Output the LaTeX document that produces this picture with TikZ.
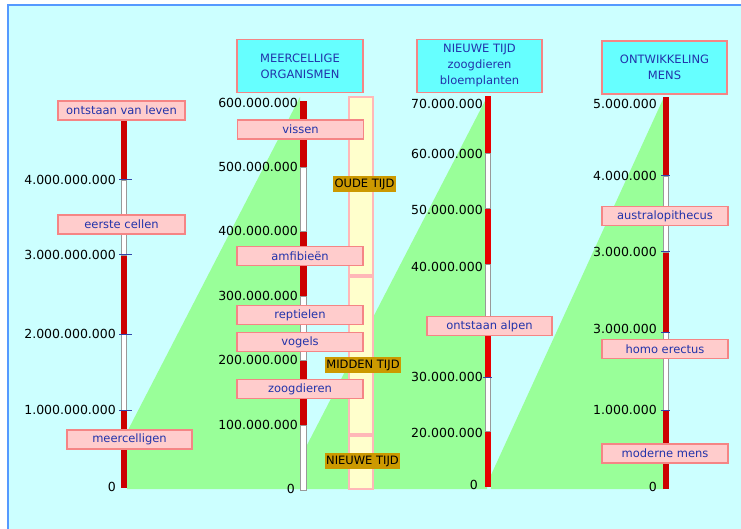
\documentclass[tikz,border=0pt]{standalone}
\usepackage{fontspec}
\setmainfont{DejaVu Sans}

\definecolor{bgcyan}{HTML}{CCFFFF}
\definecolor{frameblue}{HTML}{5599FF}
\definecolor{grass}{HTML}{99FF99}
\definecolor{barred}{HTML}{CC0000}
\definecolor{barredlight}{HTML}{E80000}
\definecolor{boxfill}{HTML}{FFCCCC}
\definecolor{boxline}{HTML}{F58585}
\definecolor{boxtext}{HTML}{2233AA}
\definecolor{headfill}{HTML}{66FFFF}
\definecolor{erafill}{HTML}{FFFFCC}
\definecolor{eraline}{HTML}{FFB8B8}
\definecolor{eragold}{HTML}{CC9900}
\definecolor{tickblue}{HTML}{3344AA}

\tikzset{
  lblbox/.style={draw=boxline, line width=1.2pt, fill=boxfill, text=boxtext,
    font=\fontsize{11.5}{13}\selectfont, minimum width=126pt, minimum height=19pt,
    inner sep=0pt},
  headbox/.style={draw=boxline, line width=1.2pt, fill=headfill, text=boxtext,
    font=\fontsize{11.5}{16}\selectfont, minimum width=125pt, minimum height=53pt,
    align=center, inner sep=0pt},
  eratag/.style={fill=eragold, text=black, font=\fontsize{11.5}{12}\selectfont,
    minimum height=16pt, inner xsep=1.5pt, inner ysep=0pt},
  erabar/.style={draw=eraline, line width=1.2pt, fill=erafill},
  num/.style={anchor=east, inner sep=0pt, font=\fontsize{12.5}{14}\selectfont},
  redseg/.style={fill=barred},
  whiteseg/.style={fill=white, draw=gray!80, line width=0.8pt},
  tickmark/.style={draw=tickblue, line width=1pt}
}

\begin{document}
\begin{tikzpicture}[x=1pt, y=-1pt]
      \useasboundingbox (0,0) rectangle (741,529);

      % Background
      \fill[white] (0,0) rectangle (741,529);
      \fill[bgcyan] (8,5) rectangle (741,529);
      \draw[frameblue, line width=1.5pt] (8,529) -- (8,5) -- (741,5);

      % Green zoom wedges
      \fill[grass] (127,432) -- (300,97) -- (300,489) -- (127,489) -- cycle;
      \fill[grass] (307,445) -- (487,97) -- (487,489) -- (307,489) -- cycle;
      \fill[grass] (491,475) -- (664,97) -- (664,489) -- (491,489) -- cycle;

      % Era columns
      \draw[erabar] (349,97) rectangle (373,275);
      \draw[erabar] (349,277) rectangle (373,434);
      \draw[erabar] (349,436) rectangle (373,489);

      % Bars
      \foreach \a/\b in {110/180, 255/334, 410/488}
        \fill[redseg] (121,\a) rectangle (127,\b);
      \foreach \a/\b in {180/255, 334/410}
        \draw[whiteseg] (121.5,\a) rectangle (126.5,\b);

      \foreach \a/\b in {101/167, 231/296, 360/425}
        \fill[redseg] (300,\a) rectangle (307,\b);
      \foreach \a/\b in {167/231, 296/360, 425/490}
        \draw[whiteseg] (300.5,\a) rectangle (306.5,\b);

      \foreach \a/\b in {96/153, 208/264, 320/377, 431/487}
        \fill[barredlight] (485,\a) rectangle (491,\b);
      \foreach \a/\b in {153/208, 264/320, 377/431}
        \draw[whiteseg] (485.5,\a) rectangle (490.5,\b);

      \foreach \a/\b in {97/176, 252/332, 410/489}
        \fill[redseg] (663,\a) rectangle (669,\b);
      \foreach \a/\b in {176/252, 332/410}
        \draw[whiteseg] (663.5,\a) rectangle (668.5,\b);

      % Ticks
      \foreach \y in {180, 255, 334, 410}
        \draw[tickmark] (119,\y) -- (132,\y);
      \foreach \y in {176, 252, 332, 410}
        \draw[tickmark] (661,\y) -- (670,\y);
      \draw[tickmark] (483,377) -- (492,377);

      % Scale numbers
      \foreach \y/\t in {180/4.000.000.000, 255/3.000.000.000, 334/2.000.000.000,
                         410/1.000.000.000, 487/0}
        \node[num] (a\y) at (116,\y) {\t};
      \foreach \y/\t in {103/600.000.000, 167/500.000.000, 231/400.000.000,
                         296/300.000.000, 360/200.000.000, 425/100.000.000}
        \node[num] (b\y) at (298,\y) {\t};
      \node[num] (b489) at (295,489) {0};
      \foreach \y/\t in {104/70.000.000, 154/60.000.000, 210/50.000.000,
                         267/40.000.000, 377/30.000.000, 433/20.000.000}
        \node[num] (c\y) at (483,\y) {\t};
      \node[num] (c485) at (478,485) {0};
      \foreach \y/\t in {104/5.000.000, 176/4.000.000, 252/3.000.000,
                         329/3.000.000, 410/1.000.000, 487/0}
        \node[num] (d\y) at (657,\y) {\t};

      % Era tags
      \node[eratag] (oude) at (364.5,184) {OUDE TIJD};
      \node[eratag] (midden) at (363,365) {MIDDEN TIJD};
      \node[eratag] (nieuw) at (362.5,461) {NIEUWE TIJD};

      % Event boxes
      \node[lblbox, minimum width=127pt] (leven) at (121.5,110.5) {ontstaan van leven};
      \node[lblbox, minimum width=127pt] (cellen) at (121.5,224.5) {eerste cellen};
      \node[lblbox, minimum width=125pt] (meercellig) at (129.5,439.5) {meercelligen};

      \node[lblbox] (vissen) at (300.5,129.5) {vissen};
      \node[lblbox] (amfibie) at (300,256) {amfibieën};
      \node[lblbox] (reptiel) at (300,315) {reptielen};
      \node[lblbox] (vogels) at (300,342) {vogels};
      \node[lblbox] (zoogdier) at (300,389) {zoogdieren};

      \node[lblbox, minimum width=125pt] (alpen) at (489.5,326) {ontstaan alpen};

      \node[lblbox] (australo) at (665,216) {australopithecus};
      \node[lblbox] (erectus) at (665,349) {homo erectus};
      \node[lblbox] (modern) at (665,453.5) {moderne mens};

      % Headers
      \node[headbox, minimum width=126pt] (meercel) at (300,66)
        {MEERCELLIGE\\ORGANISMEN};
      \node[headbox] (nieuwtijd) at (479.5,66)
        {NIEUWE TIJD\\zoogdieren\\bloemplanten};
      \node[headbox] (mens) at (664.5,67.5)
        {ONTWIKKELING\\MENS};
    \end{tikzpicture}
\end{document}
